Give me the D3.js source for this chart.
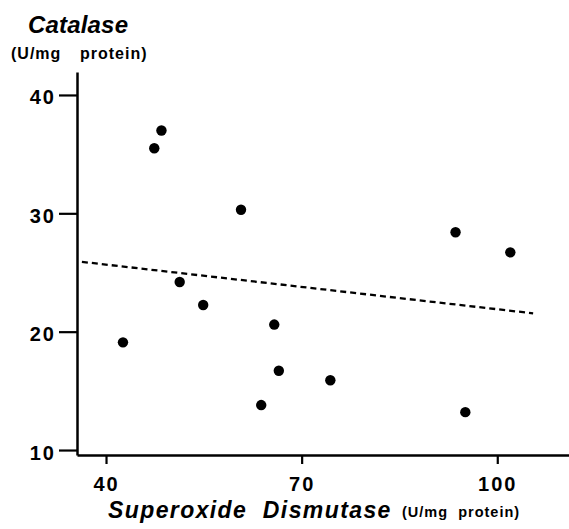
<!DOCTYPE html>
<html>
<head>
<meta charset="utf-8">
<script src="https://cdn.jsdelivr.net/npm/d3@7"></script>
<style>
  body { margin: 0; background: #fff; }
  text { font-family: "Liberation Sans", Arial, Helvetica, sans-serif; font-weight: bold; fill: #000; }
</style>
</head>
<body>
<div id="chart"></div>
<script>
// superoxide dismutase (x) vs catalase (y), U/mg protein
var sod = [42.6, 47.4, 48.5, 51.3, 54.9, 60.7, 63.8, 65.8, 66.5, 74.4, 93.6, 95.1, 102.0];
var cat = [19.1, 35.5, 37.0, 24.2, 22.25, 30.3, 13.8, 20.6, 16.7, 15.9, 28.4, 13.2, 26.7];

// regression line ends
var fitX = [36.3, 105.5];
var fitY = [25.9, 21.55];

var xTicks = [40, 70, 100];
var yTicks = [10, 20, 30, 40];

var width = 569, height = 529;

var x = d3.scaleLinear().domain([35.55, 111]).range([77, 569]);
var y = d3.scaleLinear().domain([9.58, 41.94]).range([455, 72]);

var svg = d3.select("#chart").append("svg")
    .attr("width", width)
    .attr("height", height);

// y axis
var gy = svg.append("g")
    .attr("transform", "translate(" + 77 + ",0)")
    .call(d3.axisLeft(y)
        .tickValues(yTicks)
        .tickSize(18)
        .tickSizeOuter(0)
        .tickPadding(3));
gy.select(".domain").attr("stroke-width", 2.5);
gy.selectAll(".tick line").attr("stroke-width", 2.2);
gy.selectAll(".tick text")
    .attr("font-size", 20)
    .attr("letter-spacing", "2px")
    .attr("dy", "0.45em");

// x axis
var gx = svg.append("g")
    .attr("transform", "translate(0," + 455 + ")")
    .call(d3.axisBottom(x)
        .tickValues(xTicks)
        .tickSize(9)
        .tickSizeOuter(0)
        .tickPadding(13));
gx.select(".domain").attr("stroke-width", 2.5);
gx.selectAll(".tick line").attr("stroke-width", 2.2);
gx.selectAll(".tick text")
    .attr("font-size", 20)
    .attr("letter-spacing", "2px");

svg.selectAll(".domain, .tick line").attr("stroke", "#000");
svg.selectAll(".tick text").attr("fill", "#000").attr("font-weight", "bold");

// dashed fit line
svg.append("line")
    .attr("x1", x(fitX[0])).attr("y1", y(fitY[0]))
    .attr("x2", x(fitX[1])).attr("y2", y(fitY[1]))
    .attr("stroke", "#000")
    .attr("stroke-width", 2.3)
    .attr("stroke-dasharray", "6,4");

// points
svg.selectAll("circle.pt")
    .data(sod.map(function (d, i) { return [d, cat[i]]; }))
    .enter().append("circle")
    .attr("class", "pt")
    .attr("cx", function (d) { return x(d[0]); })
    .attr("cy", function (d) { return y(d[1]); })
    .attr("r", 5.2)
    .attr("fill", "#000");

// y title
svg.append("text")
    .attr("x", 28).attr("y", 33)
    .attr("font-size", 24)
    .attr("font-style", "italic")
    .attr("textLength", 100)
    .text("Catalase");
svg.append("text")
    .attr("x", 11).attr("y", 59)
    .attr("font-size", 16)
    .attr("letter-spacing", "1px")
    .text("(U/mg");
svg.append("text")
    .attr("x", 80).attr("y", 59)
    .attr("font-size", 16)
    .attr("letter-spacing", "1px")
    .text("protein)");

// x title
svg.append("text")
    .attr("x", 108).attr("y", 518)
    .attr("font-size", 23)
    .attr("font-style", "italic")
    .attr("letter-spacing", "1.4px")
    .style("white-space", "pre")
    .text("Superoxide  Dismutase");
svg.append("text")
    .attr("x", 402).attr("y", 517)
    .attr("font-size", 14.5)
    .attr("letter-spacing", "1px")
    .style("white-space", "pre")
    .text("(U/mg  protein)");
</script>
</body>
</html>
